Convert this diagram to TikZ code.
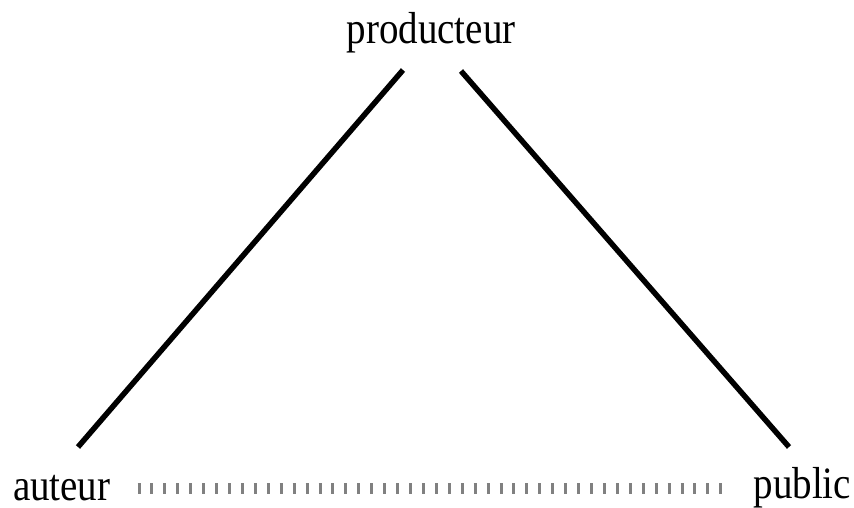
\documentclass[tikz,border=0pt]{standalone}
\usepackage{fontspec}
\setmainfont{Liberation Serif}
\begin{document}
\begin{tikzpicture}[x=1pt,y=-1pt,
  lbl/.style={inner sep=0pt,outer sep=0pt,font=\fontsize{39}{39}\selectfont},
  edge/.style={line width=5.5pt,black},
  ticks/.style={line width=11pt,draw=black!50,dash pattern=on 3pt off 9.93pt}]
\useasboundingbox (0,0) rectangle (854,507);
\node[lbl,anchor=base] (prod) at (431,43) {\scalebox{1}[1.15]{producteur}};
\node[lbl,anchor=base west] (aut) at (13,500) {\scalebox{1}[1.15]{auteur}};
\node[lbl,anchor=base east] (pub) at (851,498) {\scalebox{1}[1.15]{public}};
\coordinate (pl) at (403,70);
\coordinate (pr) at (461,71);
\coordinate (al) at (78,447);
\coordinate (ar) at (789,447);
\coordinate (ts) at (137.5,488.5);
\coordinate (te) at (722.5,488.5);
\draw[edge] (al) -- (pl);
\draw[edge] (pr) -- (ar);
\draw[ticks] (ts) -- (te);
\end{tikzpicture}
\end{document}
